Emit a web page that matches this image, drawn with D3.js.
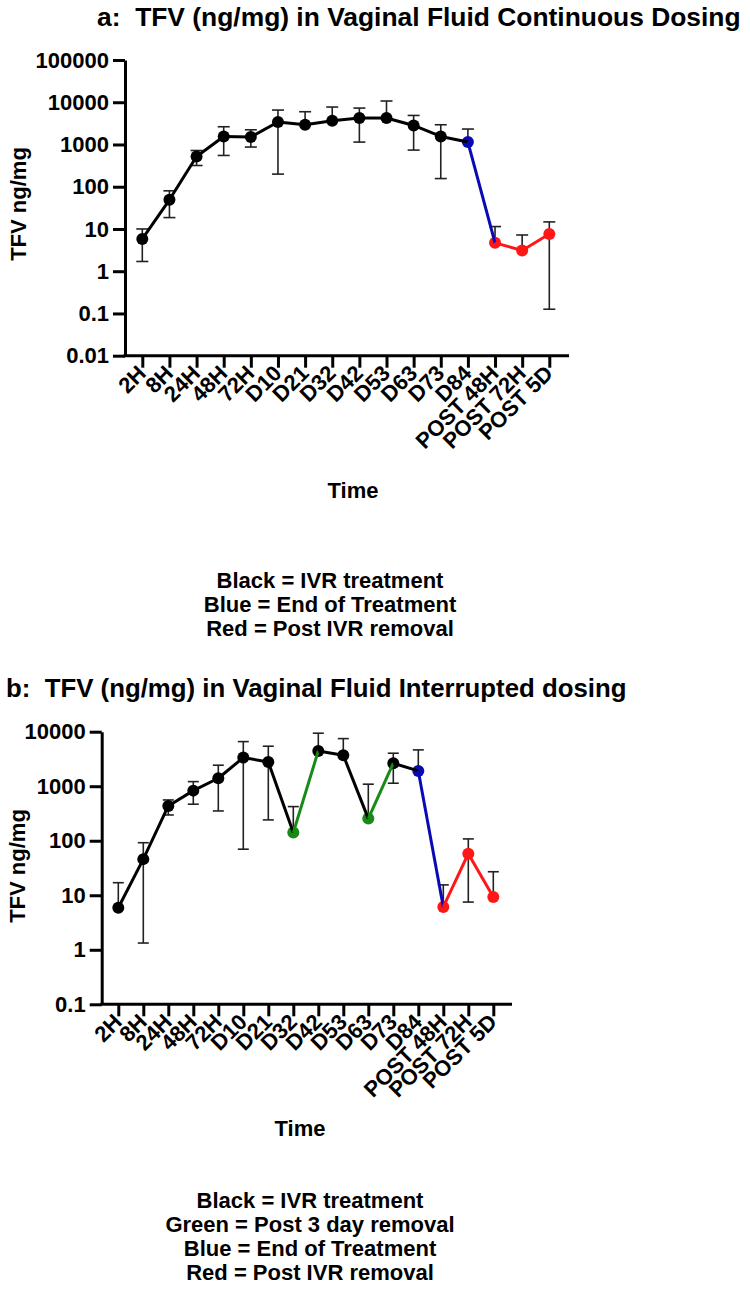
<!DOCTYPE html>
<html>
<head>
<meta charset="utf-8">
<script src="https://cdn.jsdelivr.net/npm/d3@7"></script>
<style>
  body { margin: 0; background: #fff; }
  svg { display: block; font-family: "Liberation Sans", Arial, Helvetica, sans-serif; }
  text { white-space: pre; }
</style>
</head>
<body>
<svg id="chart" width="750" height="1291"></svg>
<script>
// time points (shared by both panels)
var timeLabels = ["2H", "8H", "24H", "48H", "72H", "D10", "D21", "D32", "D42", "D53",
                  "D63", "D73", "D84", "POST 48H", "POST 72H", "POST 5D"];

// panel a: continuous dosing (mean, upper and lower end of error bar; null = no lower bar)
var meanA  = [5.8, 49, 520, 1550, 1500, 3400, 2930, 3640, 4230, 4230, 2820, 1550, 1140, 4.7, 3.1, 7.6];
var upperA = [10, 80, 720, 2630, 2230, 6530, 5960, 7700, 7280, 10700, 4870, 2930, 2320, 11.4, 7.2, 14.7];
var lowerA = [1.7, 18.6, 318, 550, 870, 199, null, null, 1140, null, 737, 156, null, null, null, 0.126];
var groupA = ["ivr", "ivr", "ivr", "ivr", "ivr", "ivr", "ivr", "ivr", "ivr", "ivr",
              "ivr", "ivr", "end", "post", "post", "post"];
var ticksA = [0.01, 0.1, 1, 10, 100, 1000, 10000, 100000];
var legendA = ["Black = IVR treatment", "Blue = End of Treatment", "Red = Post IVR removal"];

// panel b: interrupted dosing
var meanB  = [5.9, 46, 435, 830, 1400, 3350, 2790, 141, 4440, 3700, 255, 2640, 1910, 6.1, 58, 9.3];
var upperB = [17, 92, 560, 1215, 2430, 6580, 5420, 423, 9380, 7470, 1090, 4030, 4640, 15.5, 108, 27];
var lowerB = [null, 1.33, 297, 468, 352, 70, 241, null, null, null, null, 1135, null, null, 7.5, null];
var groupB = ["ivr", "ivr", "ivr", "ivr", "ivr", "ivr", "ivr", "gap", "ivr", "ivr",
              "gap", "ivr", "end", "post", "post", "post"];
var ticksB = [0.1, 1, 10, 100, 1000, 10000];
var legendB = ["Black = IVR treatment", "Green = Post 3 day removal",
               "Blue = End of Treatment", "Red = Post IVR removal"];

var groupColor = {ivr: "#000000", gap: "#178a17", end: "#0a0ab4", post: "#ff1616"};

var svg = d3.select("#chart");

var drawPanel = function(p){
	var g = svg.append("g").attr("class", p.name);

	var x = d3.scalePoint().domain(timeLabels).range(p.xRange);
	var y = d3.scaleLog().domain(p.yDomain).range(p.yRange);

	var rows = timeLabels.map(function(t, i){
		return {t: t, v: p.mean[i], hi: p.upper[i], lo: p.lower[i], grp: p.group[i]};
	});

	// title
	g.append("text")
		.attr("x", p.titleX).attr("y", p.titleY)
		.attr("font-size", p.titleSize + "px").attr("font-weight", "bold")
		.text(p.title);

	// y axis
	var yAxis = g.append("g")
		.attr("transform", "translate(" + p.axisX + ",0)")
		.call(d3.axisLeft(y).tickValues(p.ticks).tickFormat(function(d){ return String(d); })
			.tickSize(12).tickSizeOuter(0).tickPadding(4));
	yAxis.select(".domain").attr("stroke-width", 3);
	yAxis.selectAll(".tick line").attr("stroke-width", 3);
	yAxis.selectAll(".tick text")
		.attr("font-size", "22px").attr("font-weight", "bold")
		.attr("font-family", "Liberation Sans, Arial, sans-serif")
		.attr("fill", "#000");

	// x axis
	var base = y(p.yDomain[0]);
	var xAxis = g.append("g")
		.attr("transform", "translate(0," + base + ")")
		.call(d3.axisBottom(x).tickSize(12).tickSizeOuter(0).tickFormat(""));
	xAxis.select(".domain").remove();
	xAxis.selectAll(".tick line").attr("stroke-width", 3);
	g.append("line")
		.attr("x1", p.axisX - 1.5).attr("x2", p.axisEnd)
		.attr("y1", base).attr("y2", base)
		.attr("stroke", "#000").attr("stroke-width", 3);

	g.selectAll("text.xlab")
		.data(timeLabels)
		.enter().append("text")
		.attr("class", "xlab")
		.attr("transform", function(d){ return "translate(" + (x(d) + 5) + "," + (base + 19) + ") rotate(-45)"; })
		.attr("text-anchor", "end")
		.attr("font-size", "22px").attr("font-weight", "bold")
		.text(function(d){ return d; });

	// axis titles
	g.append("text")
		.attr("transform", "translate(" + p.yLabel[0] + "," + p.yLabel[1] + ") rotate(-90)")
		.attr("text-anchor", "middle").attr("dy", "0.35em")
		.attr("font-size", "22px").attr("font-weight", "bold")
		.text("TFV ng/mg");
	g.append("text")
		.attr("x", p.timeLabel[0]).attr("y", p.timeLabel[1])
		.attr("text-anchor", "middle").attr("dy", "0.35em")
		.attr("font-size", "22px").attr("font-weight", "bold")
		.text("Time");

	// error bars
	var cap = p.cap;
	var eb = g.append("g").attr("class", "errbars")
		.attr("stroke", "#222").attr("stroke-width", 1.6).attr("fill", "none");
	rows.forEach(function(r){
		var cx = x(r.t);
		var bottom = r.lo === null ? y(r.v) : y(r.lo);
		eb.append("line").attr("x1", cx).attr("x2", cx).attr("y1", y(r.hi)).attr("y2", bottom);
		eb.append("line").attr("x1", cx - cap).attr("x2", cx + cap).attr("y1", y(r.hi)).attr("y2", y(r.hi));
		if(r.lo !== null)
			eb.append("line").attr("x1", cx - cap).attr("x2", cx + cap).attr("y1", y(r.lo)).attr("y2", y(r.lo));
	});

	// markers
	g.selectAll("circle.pt")
		.data(rows)
		.enter().append("circle")
		.attr("class", "pt")
		.attr("cx", function(d){ return x(d.t); })
		.attr("cy", function(d){ return y(d.v); })
		.attr("r", 6)
		.attr("fill", function(d){ return groupColor[d.grp]; });

	// connecting segments, coloured by the point they start from
	var segs = d3.pairs(rows);
	g.selectAll("line.seg")
		.data(segs)
		.enter().append("line")
		.attr("class", "seg")
		.attr("x1", function(d){ return x(d[0].t); })
		.attr("y1", function(d){ return y(d[0].v); })
		.attr("x2", function(d){ return x(d[1].t); })
		.attr("y2", function(d){ return y(d[1].v); })
		.attr("stroke", function(d){ return groupColor[d[0].grp]; })
		.attr("stroke-width", 3);

	// colour key under the chart
	g.selectAll("text.key")
		.data(p.legend)
		.enter().append("text")
		.attr("class", "key")
		.attr("x", p.legendX)
		.attr("y", function(d, i){ return p.legendY + i * 24; })
		.attr("text-anchor", "middle").attr("dy", "0.35em")
		.attr("font-size", "22px").attr("font-weight", "bold")
		.text(function(d){ return d; });
};

drawPanel({
	name: "panelA",
	title: "a:  TFV (ng/mg) in Vaginal Fluid Continuous Dosing",
	titleX: 97, titleY: 26, titleSize: 26.4,
	mean: meanA, upper: upperA, lower: lowerA, group: groupA, ticks: ticksA,
	xRange: [142.3, 549.3], yDomain: [0.01, 100000], yRange: [355.7, 60],
	axisX: 125, axisEnd: 569, cap: 6,
	yLabel: [18, 204], timeLabel: [353, 490],
	legend: legendA, legendX: 330, legendY: 580
});

drawPanel({
	name: "panelB",
	title: "b:  TFV (ng/mg) in Vaginal Fluid Interrupted dosing",
	titleX: 6, titleY: 697, titleSize: 25.8,
	mean: meanB, upper: upperB, lower: lowerB, group: groupB, ticks: ticksB,
	xRange: [118.3, 493.3], yDomain: [0.1, 10000], yRange: [1004.3, 731.7],
	axisX: 101.7, axisEnd: 512, cap: 5.5,
	yLabel: [17, 866], timeLabel: [300, 1128],
	legend: legendB, legendX: 310, legendY: 1200
});
</script>
</body>
</html>
